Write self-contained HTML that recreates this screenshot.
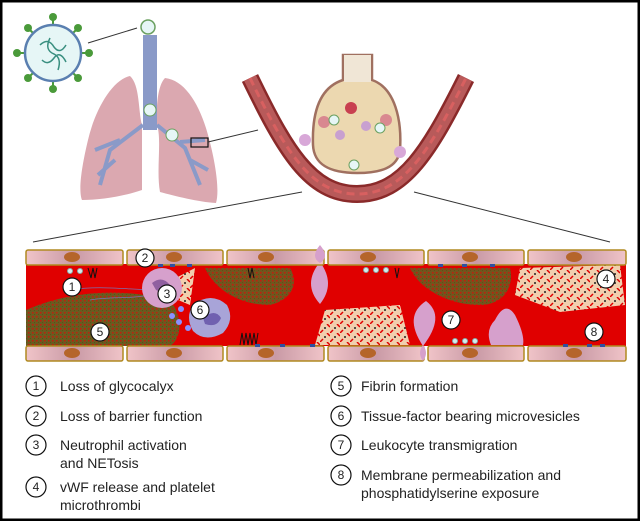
<!DOCTYPE html>
<html><head><meta charset="utf-8"><style>
html,body{margin:0;padding:0;background:#fff}
svg{display:block}
text{font-family:"Liberation Sans",sans-serif;fill:#222}
</style></head><body>
<svg width="640" height="521" viewBox="0 0 640 521" xmlns="http://www.w3.org/2000/svg">
<defs>
<linearGradient id="cell" x1="0" x2="1"><stop offset="0" stop-color="#f0c4c8"/><stop offset="0.5" stop-color="#c99aa6"/><stop offset="1" stop-color="#f0c4c8"/></linearGradient>
<pattern id="fib" width="4" height="4" patternUnits="userSpaceOnUse"><rect width="4" height="4" fill="#5e6422"/><rect x="0" y="0" width="1.5" height="1.5" fill="#c02010"/><rect x="2" y="2" width="1" height="1" fill="#46601e"/></pattern>
<pattern id="plt" width="10" height="9" patternUnits="userSpaceOnUse"><rect width="10" height="9" fill="#f1cfae"/><circle cx="5" cy="4" r="1" fill="#222"/><path d="M0 9 L3 6 M7 0 L10 3" stroke="#e00000" stroke-width="1.5"/></pattern>
<clipPath id="lum"><rect x="26" y="264" width="600" height="82"/></clipPath>
</defs>
<rect x="0" y="0" width="640" height="521" fill="#fff" stroke="#000" stroke-width="5"/>

<!-- virus -->
<g>
<g stroke="#4a9a3a" stroke-width="2">
<line x1="53" y1="53" x2="53" y2="17"/><line x1="53" y1="53" x2="53" y2="89"/><line x1="53" y1="53" x2="17" y2="53"/><line x1="53" y1="53" x2="89" y2="53"/>
<line x1="53" y1="53" x2="28" y2="28"/><line x1="53" y1="53" x2="78" y2="28"/><line x1="53" y1="53" x2="28" y2="78"/><line x1="53" y1="53" x2="78" y2="78"/>
</g>
<g fill="#4a9a3a"><circle cx="53" cy="17" r="4"/><circle cx="53" cy="89" r="4"/><circle cx="17" cy="53" r="4"/><circle cx="89" cy="53" r="4"/><circle cx="28" cy="28" r="4"/><circle cx="78" cy="28" r="4"/><circle cx="28" cy="78" r="4"/><circle cx="78" cy="78" r="4"/></g>
<circle cx="53" cy="53" r="28" fill="#e6f6f6" stroke="#5a7fb0" stroke-width="2.5"/>
<path d="M40 45 q8 -8 14 2 q6 8 12 -2 M42 60 q6 6 12 -2 q6 -8 12 4 M50 38 q-6 12 4 16 q8 4 4 16" fill="none" stroke="#3a8f80" stroke-width="1.5"/>
</g>
<line x1="88" y1="43" x2="137" y2="28" stroke="#333" stroke-width="1"/>
<circle cx="148" cy="27" r="7" fill="#e6f6f6" stroke="#6aa060" stroke-width="1.5"/>

<!-- lungs -->
<path d="M130 76 C112 80 95 110 88 140 C82 165 78 190 82 200 C100 200 125 196 142 190 L142 125 C138 110 140 85 130 76 Z" fill="#dba8b0"/>
<path d="M165 78 C185 80 200 105 208 135 C215 160 220 190 216 203 C198 202 175 196 160 192 C156 170 162 140 157 125 C156 105 158 85 165 78 Z" fill="#dba8b0"/>
<rect x="143" y="35" width="14" height="95" fill="#8a9ac8"/>
<path d="M143 125 L110 150 L100 185 M120 140 L95 150 M115 160 L98 175 M157 125 L185 148 L200 185 M180 142 L205 140 M190 160 L208 170" stroke="#8a9ac8" stroke-width="4" fill="none"/>
<circle cx="150" cy="110" r="6" fill="#e6f6f6" stroke="#6aa060"/>
<circle cx="172" cy="135" r="6" fill="#e6f6f6" stroke="#6aa060"/>
<rect x="191" y="138" width="17" height="9" fill="none" stroke="#111" stroke-width="1.2"/>
<line x1="208" y1="142" x2="258" y2="130" stroke="#333" stroke-width="1"/>

<!-- alveolus -->
<path d="M343 55 L372 55 L372 80 C395 88 402 120 400 150 C398 168 380 173 357 173 C330 173 314 165 313 145 C312 115 318 88 343 80 Z" fill="#ecd8b0" stroke="#a07060" stroke-width="2.5"/>
<rect x="344" y="55" width="27" height="27" fill="#f0e6d6"/>
<circle cx="351" cy="108" r="6" fill="#c84050"/>
<circle cx="324" cy="122" r="6" fill="#d98890"/><circle cx="386" cy="120" r="6" fill="#d98890"/>
<circle cx="334" cy="120" r="5" fill="#e6f6f6" stroke="#6aa060"/><circle cx="380" cy="128" r="5" fill="#e6f6f6" stroke="#6aa060"/><circle cx="354" cy="165" r="5" fill="#e6f6f6" stroke="#6aa060"/>
<circle cx="366" cy="126" r="5" fill="#c8a0d0"/><circle cx="340" cy="135" r="5" fill="#c8a0d0"/>
<circle cx="305" cy="140" r="6" fill="#d8a8d8"/><circle cx="400" cy="152" r="6" fill="#d8a8d8"/>
<!-- vessel U -->
<path d="M250 78 C285 150 310 194 357 194 C404 194 430 150 466 78" fill="none" stroke="#8a2a2a" stroke-width="18"/>
<path d="M250 78 C285 150 310 194 357 194 C404 194 430 150 466 78" fill="none" stroke="#b85a5a" stroke-width="13"/>
<path d="M250 78 C285 150 310 194 357 194 C404 194 430 150 466 78" fill="none" stroke="#d86060" stroke-width="3" stroke-dasharray="8 5"/>
<line x1="302" y1="192" x2="33" y2="242" stroke="#333" stroke-width="1"/>
<line x1="414" y1="192" x2="610" y2="242" stroke="#333" stroke-width="1"/>

<!-- lumen -->
<rect x="26" y="264" width="600" height="82" fill="#e00000"/>
<g clip-path="url(#lum)">
<path d="M26 310 C60 295 110 285 170 300 C185 320 180 340 170 346 L26 346 Z" fill="url(#fib)" opacity="0.9"/>
<path d="M205 268 L290 268 C300 285 290 300 270 305 C240 305 215 290 205 268 Z" fill="url(#fib)" opacity="0.85"/>
<path d="M410 268 L510 268 C515 290 500 305 480 305 C450 305 420 290 410 268 Z" fill="url(#fib)" opacity="0.85"/>
<path d="M70 290 C100 285 130 290 160 290 M90 300 C110 296 140 300 160 292" stroke="#7a70b0" stroke-width="0.8" fill="none"/>
</g>
<path d="M315 345 L325 310 L400 305 L410 345 Z" fill="url(#plt)"/>
<path d="M515 295 L520 268 L620 265 L625 305 L560 312 Z" fill="url(#plt)"/>
<path d="M172 280 L195 268 L190 305 L178 300 Z" fill="url(#plt)"/>
<circle cx="162" cy="288" r="20" fill="#d6a0cc"/><path d="M152 283 q10 -8 18 2 q-4 10 -14 5" fill="#9060a0"/>
<path d="M193 305 q18 -14 34 0 q8 15 -4 28 q-18 10 -30 -2 q-8 -14 0 -26" fill="#a8a4d8"/>
<path d="M203 318 q12 -10 18 0 q-4 10 -16 6" fill="#7060b0"/>
<g fill="#8a90ff"><circle cx="172" cy="316" r="3"/><circle cx="181" cy="309" r="3"/><circle cx="179" cy="322" r="3"/><circle cx="188" cy="328" r="3"/></g>
<path d="M320 262 q-18 22 0 42 q16 -20 0 -42" fill="#d6a0cc"/>
<path d="M423 346 q-20 -30 3 -45 q20 15 -3 45" fill="#d6a0cc"/>
<path d="M495 320 q10 -20 20 -5 q10 20 8 30 l-32 0 q-6 -15 4 -25" fill="#d6a0cc"/>
<g fill="#d6ecec" stroke="#8aa"><circle cx="70" cy="271" r="2.5"/><circle cx="80" cy="271" r="2.5"/><circle cx="366" cy="270" r="2.5"/><circle cx="376" cy="270" r="2.5"/><circle cx="386" cy="270" r="2.5"/><circle cx="455" cy="341" r="2.5"/><circle cx="465" cy="341" r="2.5"/><circle cx="475" cy="341" r="2.5"/></g>
<path d="M88 268 l3 10 l2 -10 l2 10 l2 -10 M248 268 l2 10 l2 -10 l2 10 M395 268 l2 10 l2 -10 M240 345 l2 -12 l2 12 l2 -12 l2 12 l2 -12 l2 12 l2 -12 l2 12 l2 -12" stroke="#111" stroke-width="1" fill="none"/>

<!-- cells -->
<g stroke="#b08a20" stroke-width="1.5" fill="url(#cell)">
<rect x="26" y="250" width="97" height="15" rx="2"/><rect x="127" y="250" width="96" height="15" rx="2"/><rect x="227" y="250" width="97" height="15" rx="2"/><rect x="328" y="250" width="96" height="15" rx="2"/><rect x="428" y="250" width="96" height="15" rx="2"/><rect x="528" y="250" width="98" height="15" rx="2"/>
<rect x="26" y="346" width="97" height="15" rx="2"/><rect x="127" y="346" width="96" height="15" rx="2"/><rect x="227" y="346" width="97" height="15" rx="2"/><rect x="328" y="346" width="96" height="15" rx="2"/><rect x="428" y="346" width="96" height="15" rx="2"/><rect x="528" y="346" width="98" height="15" rx="2"/>
</g>
<g fill="#b5652a"><ellipse cx="72" cy="257" rx="8" ry="5"/><ellipse cx="174" cy="257" rx="8" ry="5"/><ellipse cx="266" cy="257" rx="8" ry="5"/><ellipse cx="368" cy="257" rx="8" ry="5"/><ellipse cx="470" cy="257" rx="8" ry="5"/><ellipse cx="574" cy="257" rx="8" ry="5"/>
<ellipse cx="72" cy="353" rx="8" ry="5"/><ellipse cx="174" cy="353" rx="8" ry="5"/><ellipse cx="266" cy="353" rx="8" ry="5"/><ellipse cx="368" cy="353" rx="8" ry="5"/><ellipse cx="470" cy="353" rx="8" ry="5"/><ellipse cx="574" cy="353" rx="8" ry="5"/></g>
<g fill="#3050a0"><rect x="158" y="264" width="5" height="3"/><rect x="170" y="264" width="5" height="3"/><rect x="187" y="264" width="5" height="3"/><rect x="438" y="264" width="5" height="3"/><rect x="462" y="264" width="5" height="3"/><rect x="490" y="264" width="5" height="3"/><rect x="255" y="344" width="5" height="3"/><rect x="280" y="344" width="5" height="3"/><rect x="310" y="344" width="5" height="3"/><rect x="563" y="344" width="5" height="3"/><rect x="587" y="344" width="5" height="3"/><rect x="600" y="344" width="5" height="3"/></g>
<path d="M320 245 q-10 12 0 18 q10 -6 0 -18 M423 345 q-6 8 0 16 q6 -8 0 -16" fill="#d6a0cc"/>

<!-- numbered labels -->
<g font-size="12" text-anchor="middle">
<g fill="#fff" stroke="#111" stroke-width="1.2"><circle cx="72" cy="287" r="9"/><circle cx="145" cy="258" r="9"/><circle cx="167" cy="294" r="9"/><circle cx="606" cy="279" r="9"/><circle cx="100" cy="332" r="9"/><circle cx="200" cy="310" r="9"/><circle cx="451" cy="320" r="9"/><circle cx="594" cy="332" r="9"/></g>
<text x="72" y="291">1</text><text x="145" y="262">2</text><text x="167" y="298">3</text><text x="606" y="283">4</text><text x="100" y="336">5</text><text x="200" y="314">6</text><text x="451" y="324">7</text><text x="594" y="336">8</text>
</g>

<!-- legend -->
<g fill="#fff" stroke="#111" stroke-width="1.2"><circle cx="36" cy="386" r="10"/><circle cx="36" cy="416" r="10"/><circle cx="36" cy="445" r="10"/><circle cx="36" cy="487" r="10"/><circle cx="341" cy="386" r="10"/><circle cx="341" cy="416" r="10"/><circle cx="341" cy="445" r="10"/><circle cx="341" cy="475" r="10"/></g>
<g font-size="12" text-anchor="middle"><text x="36" y="390">1</text><text x="36" y="420">2</text><text x="36" y="449">3</text><text x="36" y="491">4</text><text x="341" y="390">5</text><text x="341" y="420">6</text><text x="341" y="449">7</text><text x="341" y="479">8</text></g>
<g font-size="14">
<text x="60" y="391">Loss of glycocalyx</text>
<text x="60" y="421">Loss of barrier function</text>
<text x="60" y="450">Neutrophil activation</text>
<text x="60" y="468">and NETosis</text>
<text x="60" y="492">vWF release and platelet</text>
<text x="60" y="510">microthrombi</text>
<text x="361" y="391">Fibrin formation</text>
<text x="361" y="421">Tissue-factor bearing microvesicles</text>
<text x="361" y="450">Leukocyte transmigration</text>
<text x="361" y="480">Membrane permeabilization and</text>
<text x="361" y="498">phosphatidylserine exposure</text>
</g>
</svg>
</body></html>
